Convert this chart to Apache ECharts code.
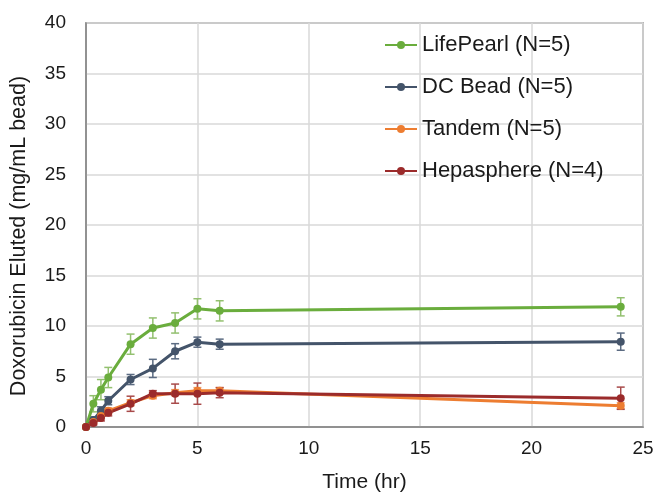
<!DOCTYPE html>
<html>
<head>
<meta charset="utf-8">
<script src="https://cdn.jsdelivr.net/npm/echarts@6/dist/echarts.min.js"></script>
<style>
  html, body { margin: 0; padding: 0; background: #fff; }
  #chart { width: 656px; height: 494px; }
</style>
</head>
<body>
<div id="chart"></div>
<script>
// sampling times (hr)
const times = [0, 0.33, 0.67, 1, 2, 3, 4, 5, 6, 24];

// mean doxorubicin eluted (mg/mL bead)
const lifePearl = [0, 2.3, 3.7, 4.9, 8.2, 9.8, 10.3, 11.7, 11.5, 11.9];
const dcBead = [0, 0.7, 1.6, 2.6, 4.7, 5.8, 7.5, 8.4, 8.2, 8.45];
const tandem = [0, 0.5, 1.1, 1.6, 2.4, 3.1, 3.4, 3.6, 3.6, 2.1];
const hepasphere = [0, 0.4, 0.9, 1.4, 2.3, 3.3, 3.3, 3.3, 3.4, 2.85];

// error bar half-heights
const lifePearlErr = [0, 0.8, 1.0, 1.0, 1.0, 1.0, 1.0, 1.0, 1.0, 0.9];
const dcBeadErr = [0, 0.3, 0.4, 0.4, 0.5, 0.9, 0.75, 0.5, 0.5, 0.85];
const tandemErr = [0, 0.2, 0.2, 0.3, 0.3, 0.3, 0.3, 0.3, 0.3, 0.3];
const hepasphereErr = [0, 0.2, 0.3, 0.3, 0.75, 0.3, 0.95, 1.05, 0.5, 1.1];

const names = ["LifePearl (N=5)", "DC Bead (N=5)", "Tandem (N=5)", "Hepasphere (N=4)"];
const colors = ["#6aad3d", "#44546a", "#ed7d31", "#9b2b2b"];
const errColors = ["#93c06f", "#5b6b82", "#f0a070", "#a84a4a"];
const means = [lifePearl, dcBead, tandem, hepasphere];
const errs = [lifePearlErr, dcBeadErr, tandemErr, hepasphereErr];

const font = "Liberation Sans, Arial, sans-serif";
const chart = echarts.init(document.getElementById("chart"));

function errorBars(i) {
  return {
    type: "custom",
    name: "err" + i,
    z: 1,
    renderItem: function (params, api) {
      const x = api.value(0);
      const lo = api.coord([x, api.value(1)]);
      const hi = api.coord([x, api.value(2)]);
      const cap = 4;
      const style = { stroke: errColors[i], lineWidth: 1.5 };
      return {
        type: "group",
        children: [
          { type: "line", shape: { x1: lo[0], y1: lo[1], x2: hi[0], y2: hi[1] }, style: style },
          { type: "line", shape: { x1: lo[0] - cap, y1: lo[1], x2: lo[0] + cap, y2: lo[1] }, style: style },
          { type: "line", shape: { x1: hi[0] - cap, y1: hi[1], x2: hi[0] + cap, y2: hi[1] }, style: style }
        ]
      };
    },
    encode: { x: 0, y: [1, 2] },
    data: times.map((t, k) => [t, means[i][k] - errs[i][k], means[i][k] + errs[i][k]]),
    silent: true
  };
}

const series = [];
means.forEach((m, i) => {
  series.push(errorBars(i));
  series.push({
    type: "line",
    name: names[i],
    data: times.map((t, k) => [t, m[k]]),
    symbol: "circle",
    symbolSize: 8,
    z: 2,
    lineStyle: { width: 3, color: colors[i] },
    itemStyle: { color: colors[i] }
  });
});

const options = {
  animation: false,
  textStyle: { fontFamily: font },
  grid: {
    left: 86, right: 13, top: 23, bottom: 67,
    containLabel: false,
    outerBoundsMode: "none",
    show: true, borderColor: "#7f7f7f", borderWidth: 1.5
  },
  legend: {
    data: names.map((n) => ({ name: n })),
    orient: "vertical",
    left: 384,
    top: 34,
    padding: 0,
    itemGap: 20,
    itemWidth: 32,
    itemHeight: 10,
    textStyle: { fontSize: 22, color: "#1a1a1a", fontFamily: font }
  },
  xAxis: {
    type: "value",
    min: 0, max: 25, interval: 5,
    name: "Time (hr)",
    nameLocation: "middle",
    nameGap: 45,
    nameTextStyle: { fontSize: 21, color: "#1a1a1a" },
    axisLine: { show: true, lineStyle: { color: "#7f7f7f", width: 1.5 } },
    axisTick: { show: false },
    axisLabel: { fontSize: 19, color: "#1a1a1a", margin: 12 },
    splitLine: { show: true, lineStyle: { color: "#d9d9d9", width: 1.5 } }
  },
  yAxis: {
    type: "value",
    min: 0, max: 40, interval: 5,
    name: "Doxorubicin Eluted (mg/mL bead)",
    nameLocation: "middle",
    nameGap: 56,
    nameTextStyle: { fontSize: 21.5, color: "#1a1a1a", padding: [0, 22, 0, 0] },
    axisLine: { show: true, lineStyle: { color: "#7f7f7f", width: 1.5 } },
    axisTick: { show: false },
    axisLabel: { fontSize: 19, color: "#1a1a1a", margin: 20 },
    splitLine: { show: true, lineStyle: { color: "#d9d9d9", width: 1.5 } }
  },
  series: series
};

chart.setOption(options);
</script>
</body>
</html>
